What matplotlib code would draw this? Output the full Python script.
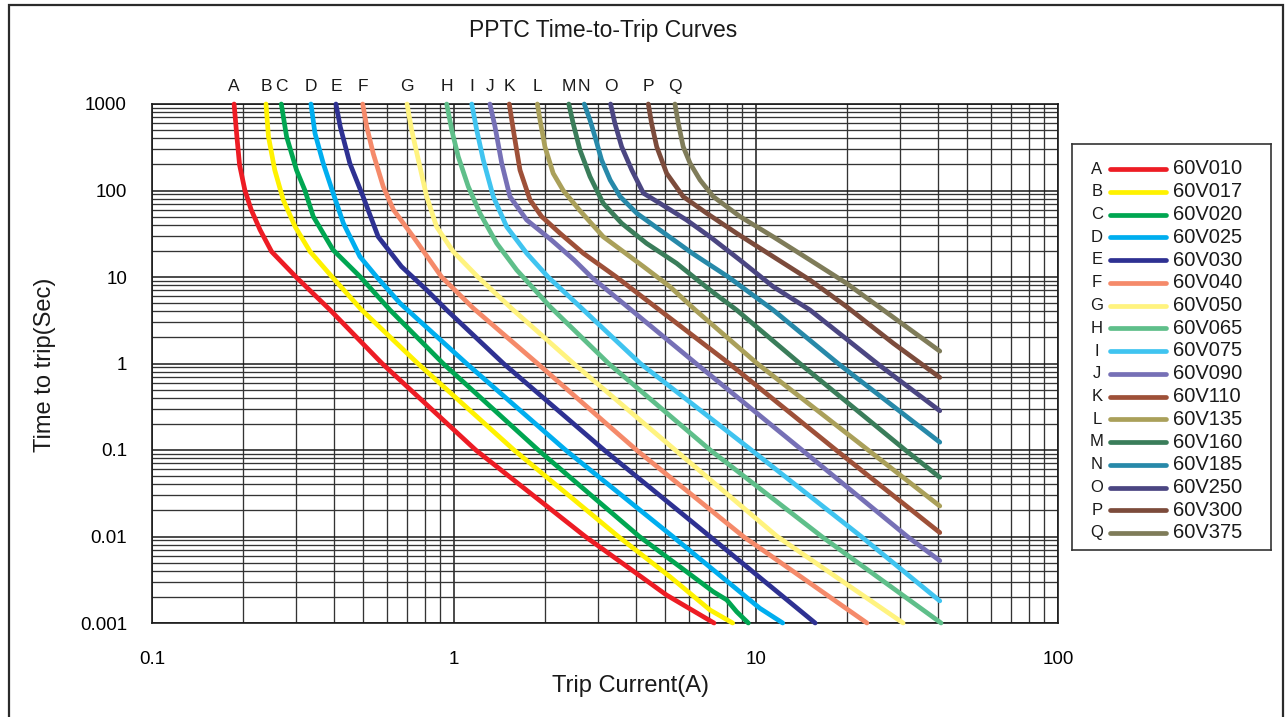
import matplotlib
matplotlib.use("Agg")
import matplotlib.pyplot as plt
from matplotlib.patches import Rectangle
from matplotlib.ticker import LogLocator, NullFormatter, FixedLocator, FixedFormatter

plt.rcParams['font.family'] = ['Liberation Sans', 'DejaVu Sans']

# ---------------- data ----------------
title = "PPTC Time-to-Trip Curves"
x_label = "Trip Current(A)"
y_label = "Time to trip(Sec)"

x_ticks = [0.1, 1, 10, 100]
x_tick_labels = ["0.1", "1", "10", "100"]
y_ticks = [0.001, 0.01, 0.1, 1, 10, 100, 1000]
y_tick_labels = ["0.001", "0.01", "0.1", "1", "10", "100", "1000"]

letters = ["A", "B", "C", "D", "E", "F", "G", "H", "I", "J", "K", "L", "M", "N", "O", "P", "Q"]
parts = ["60V010", "60V017", "60V020", "60V025", "60V030", "60V040", "60V050", "60V065",
         "60V075", "60V090", "60V110", "60V135", "60V160", "60V185", "60V250", "60V300", "60V375"]
colors = ["#ED1C24", "#FFF200", "#00A651", "#00AEEF", "#2E3192", "#F58A6A", "#FFF37F", "#5FBF8A",
          "#40C4F0", "#7670B6", "#9E5038", "#AAA05A", "#3A7D5A", "#2789A9", "#4B4682", "#7C4B3B", "#7F7C59"]

cur_A = [0.187, 0.191, 0.195, 0.203, 0.213, 0.228, 0.249, 0.300, 0.389, 0.578, 1.18, 2.72, 5.06, 7.26]
time_A = [1000, 420, 197, 101, 60, 35, 19.6, 10, 4.15, 1, 0.1, 0.01, 0.0021, 0.001]

cur_B = [0.2385, 0.243, 0.255, 0.272, 0.298, 0.334, 0.395, 0.495, 0.759, 1.58, 3.50, 5.19, 7.05, 8.37]
time_B = [1000, 420, 172, 78, 38, 19.6, 10, 4.15, 1, 0.1, 0.01, 0.00343, 0.00141, 0.001]

cur_C = [0.268, 0.279, 0.301, 0.321, 0.342, 0.398, 0.49, 0.614, 0.92, 1.90, 4.11, 7.22, 8.0, 8.63, 9.43]
time_C = [1000, 420, 172, 100, 50, 20.5, 10, 4.15, 1, 0.1, 0.01, 0.0023, 0.00185, 0.00135, 0.001]

cur_D = [0.336, 0.3465, 0.369, 0.398, 0.43, 0.488, 0.555, 0.663, 1.10, 2.34, 5.30, 10.3, 12.26]
time_D = [1000, 458, 206, 93, 42, 17.2, 10, 4.97, 1, 0.1, 0.01, 0.00148, 0.001]

cur_E = [0.4065, 0.42, 0.452, 0.50, 0.561, 0.67, 0.812, 0.946, 1.458, 3.14, 7.04, 15.7]
time_E = [1000, 547, 206, 85, 29.2, 13.2, 7.08, 4.15, 1, 0.1, 0.01, 0.001]

cur_F = [0.4986, 0.514, 0.540, 0.583, 0.630, 0.733, 0.91, 1.159, 1.89, 4.02, 9.08, 23.3]
time_F = [1000, 547, 269, 111, 60, 29.2, 10, 4.35, 1, 0.1, 0.01, 0.001]

cur_G = [0.699, 0.724, 0.762, 0.812, 0.876, 0.995, 1.20, 1.572, 2.49, 5.40, 11.76, 30.7]
time_G = [1000, 500, 226, 85, 38, 19.6, 10, 4.15, 1, 0.1, 0.01, 0.001]

cur_H = [0.946, 0.983, 1.033, 1.115, 1.219, 1.385, 1.613, 2.08, 3.25, 7.05, 16.5, 41.0]
time_H = [1000, 500, 246, 111, 54.5, 24.5, 12.05, 4.54, 1, 0.1, 0.01, 0.001]

cur_I = [1.145, 1.189, 1.25, 1.349, 1.495, 1.741, 2.05, 2.613, 4.14, 9.65, 22.3, 40.6]
time_I = [1000, 500, 226, 85, 38, 18.8, 10, 4.54, 1, 0.1, 0.01, 0.0018]

cur_J = [1.315, 1.367, 1.439, 1.532, 1.741, 2.10, 2.50, 2.85, 6.33, 14.2, 31.7, 40.6]
time_J = [1000, 547, 206, 85, 45.6, 26.8, 15.7, 10, 1, 0.1, 0.01, 0.00525]

cur_K = [1.524, 1.572, 1.654, 1.785, 1.951, 2.244, 2.68, 3.45, 8.15, 18.4, 40.6]
time_K = [1000, 500, 172, 78, 50, 32, 18.8, 10, 1, 0.1, 0.0111]

cur_L = [1.888, 1.927, 2.0, 2.13, 2.30, 2.6, 3.12, 4.24, 5.19, 6.3, 10.09, 23.5, 40.6]
time_L = [1000, 653, 321, 158, 100, 59.6, 29.2, 13.2, 7.73, 4.15, 1, 0.1, 0.0225]

cur_M = [2.40, 2.48, 2.613, 2.82, 3.12, 3.59, 4.34, 5.46, 7.04, 8.63, 13.97, 31.2, 40.6]
time_M = [1000, 598, 294, 145, 71, 41.8, 24.5, 14.4, 7.08, 4.15, 1, 0.1, 0.0483]

cur_N = [2.70, 2.82, 2.93, 3.08, 3.29, 3.55, 4.03, 4.81, 6.15, 8.1, 11.4, 18.7, 40.6]
time_N = [1000, 653, 419, 226, 132, 85, 54.5, 34.9, 18.8, 10, 4.15, 1, 0.123]

cur_O = [3.30, 3.41, 3.59, 3.88, 4.24, 4.81, 5.89, 7.04, 8.85, 11.4, 15.1, 25.2, 40.6]
time_O = [1000, 598, 321, 172, 93, 71, 45.6, 29.2, 15.7, 7.73, 4.15, 1, 0.284]

cur_P = [4.40, 4.51, 4.69, 5.06, 5.74, 6.87, 8.63, 11.4, 15.1, 19.95, 28.5, 40.6]
time_P = [1000, 598, 321, 158, 85, 54.5, 32, 17.2, 9.22, 4.54, 1.71, 0.69]

cur_Q = [5.39, 5.53, 5.74, 6.05, 6.53, 7.22, 8.85, 11.4, 15.1, 19.95, 26.4, 40.6]
time_Q = [1000, 598, 321, 206, 132, 85, 50, 29.2, 15.7, 8.45, 4.15, 1.39]

currents = [cur_A, cur_B, cur_C, cur_D, cur_E, cur_F, cur_G, cur_H, cur_I,
            cur_J, cur_K, cur_L, cur_M, cur_N, cur_O, cur_P, cur_Q]
times = [time_A, time_B, time_C, time_D, time_E, time_F, time_G, time_H, time_I,
         time_J, time_K, time_L, time_M, time_N, time_O, time_P, time_Q]

# ---------------- figure ----------------
W, H = 1288, 717
fig = plt.figure(figsize=(W / 100, H / 100), dpi=100)
fig.patch.set_facecolor("white")

# outer frame
fig.patches.append(Rectangle((9 / W, -0.02), (1283 - 9) / W, (H - 5) / H + 0.02,
                             transform=fig.transFigure, fill=False, edgecolor="#2b2b2b",
                             linewidth=1.6, zorder=0))

ax = fig.add_axes([152 / W, 1 - 623 / H, 906 / W, 519 / H])
ax.set_xscale("log")
ax.set_yscale("log")
ax.set_xlim(0.1, 100)
ax.set_ylim(0.001, 1000)

ax.xaxis.set_major_locator(FixedLocator(x_ticks))
ax.xaxis.set_major_formatter(FixedFormatter(x_tick_labels))
ax.yaxis.set_major_locator(FixedLocator(y_ticks))
ax.yaxis.set_major_formatter(FixedFormatter(y_tick_labels))
ax.xaxis.set_minor_locator(LogLocator(base=10, subs=range(2, 10), numticks=20))
ax.yaxis.set_minor_locator(LogLocator(base=10, subs=range(2, 10), numticks=20))
ax.xaxis.set_minor_formatter(NullFormatter())
ax.yaxis.set_minor_formatter(NullFormatter())
ax.tick_params(which="both", length=0)
ax.tick_params(axis="y", pad=18, labelsize=13.5)
ax.tick_params(axis="x", pad=20, labelsize=13.5)

ax.grid(which="major", color="#1a1a1a", linewidth=1.1)
ax.grid(which="minor", color="#333333", linewidth=0.95)
ax.set_axisbelow(True)
for s in ax.spines.values():
    s.set_color("#1a1a1a")
    s.set_linewidth(1.2)

for letter, col, I, t in zip(letters, colors, currents, times):
    ax.plot(I, t, color=col, linewidth=3.4, solid_capstyle="round",
            solid_joinstyle="round", clip_on=False, zorder=3)
    ax.annotate(letter, (I[0], t[0]), xytext=(0, 7), textcoords="offset points",
                ha="center", va="bottom", fontsize=12.5, color="#1a1a1a")

fig.text(603 / W, 1 - 31 / H, title, ha="center", va="center", fontsize=16.5, color="#1a1a1a")
fig.text(630 / W, 1 - 686 / H, x_label, ha="center", va="center", fontsize=17, color="#1a1a1a")
fig.text(45 / W, 1 - 365 / H, y_label, ha="center", va="center", rotation=90,
         fontsize=17, color="#1a1a1a")

# legend box
lg = fig.add_axes([1072 / W, 1 - 550 / H, 199 / W, 406 / H])
lg.set_xlim(0, 199)
lg.set_ylim(406, 0)
lg.set_xticks([])
lg.set_yticks([])
for s in lg.spines.values():
    s.set_color("#333333")
    s.set_linewidth(1.2)
for i, (letter, part, col) in enumerate(zip(letters, parts, colors)):
    y = 25 + i * 22.75
    lg.text(25, y, letter, ha="center", va="center", fontsize=12, color="#1a1a1a")
    lg.plot([38, 94], [y, y], color=col, linewidth=3.4, solid_capstyle="round")
    lg.text(101, y, part, ha="left", va="center", fontsize=14.5, color="#1a1a1a")

fig.savefig("out.png", dpi=100)
